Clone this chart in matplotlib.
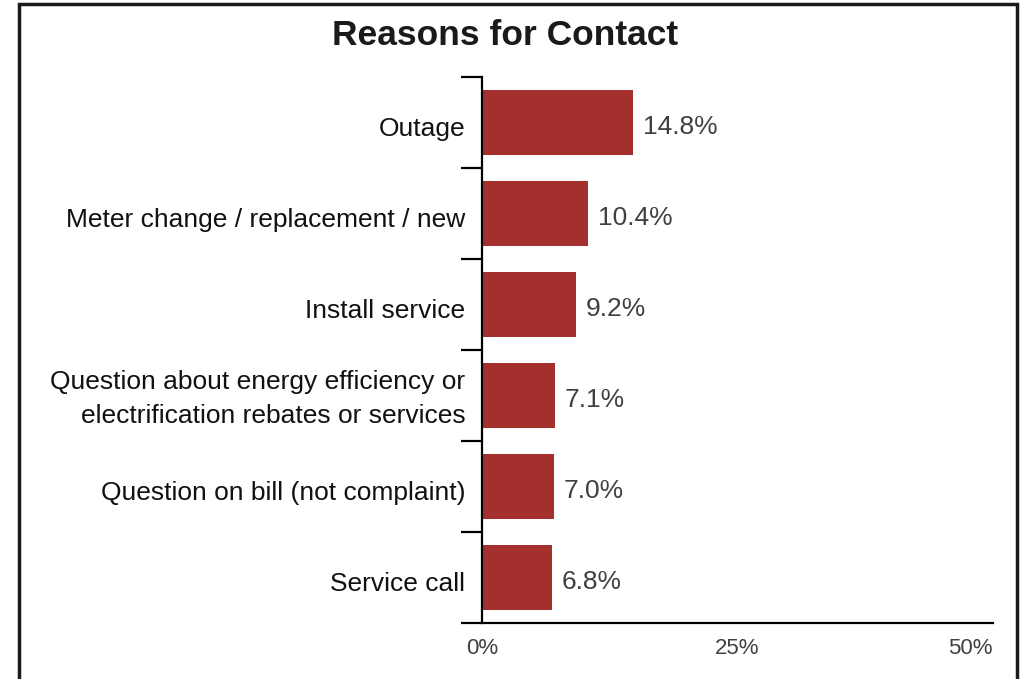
import matplotlib.pyplot as plt
from matplotlib.patches import Rectangle
from matplotlib.ticker import FixedLocator

# Datos del gráfico
categories = [
    'Outage',
    'Meter change / replacement / new',
    'Install service',
    'Question about energy efficiency or\nelectrification rebates or services',
    'Question on bill (not complaint)',
    'Service call',
]
values = [14.8, 10.4, 9.2, 7.1, 7.0, 6.8]
x_ticks = [0, 25, 50]
x_tick_labels = ['0%', '25%', '50%']

bar_color = '#A3302D'
text_gray = '#404040'

plt.rcParams['font.family'] = ['Liberation Sans', 'DejaVu Sans']

fig = plt.figure(figsize=(10.21, 6.79), dpi=100)
ax = fig.add_axes([0.4721, 0.0825, 0.5005, 0.8041])

pos = list(range(len(categories)))
ax.barh(pos, values, height=0.72, color=bar_color)
ax.set_ylim(len(categories) - 0.5, -0.5)
ax.set_xlim(0, 50)

# Etiquetas de valor
for p, v in zip(pos, values):
    ax.annotate(f'{v:.1f}%', (v, p), xytext=(7, -3), textcoords='offset points',
                va='center', ha='left', fontsize=19, color=text_gray)

# Eje Y: etiquetas de una línea un poco por debajo del centro, marcas entre categorías
label_pos = [p + (-0.04 if '\n' in c else 0.04) for p, c in zip(pos, categories)]
ax.set_yticks(label_pos)
ax.set_yticklabels(categories, fontsize=19, color='#111111', linespacing=1.5)
ax.yaxis.set_minor_locator(FixedLocator([p - 0.5 for p in pos] + [len(pos) - 0.5]))
ax.tick_params(axis='y', which='major', length=0, pad=12)
ax.tick_params(axis='y', which='minor', length=15, width=1.6, color='black', direction='out')

# Eje X
ax.set_xticks(x_ticks)
ax.set_xticklabels(x_tick_labels, fontsize=16, color=text_gray)
ax.tick_params(axis='x', length=0, pad=11)
ax.get_xticklabels()[-1].set_horizontalalignment('right')

for s in ['top', 'right']:
    ax.spines[s].set_visible(False)
ax.spines['left'].set_linewidth(1.6)
ax.spines['bottom'].set_linewidth(1.6)

fig.text(0.495, 0.947, 'Reasons for Contact', ha='center', va='center',
         fontsize=25.5, fontweight='bold', color='#1a1a1a')

# Marco exterior
fig.patches.append(Rectangle((19 / 1021, -0.05), 998 / 1021, 1.044,
                             transform=fig.transFigure, fill=False,
                             edgecolor='#1a1a1a', linewidth=2.5))

fig.savefig('out.png', dpi=100)
